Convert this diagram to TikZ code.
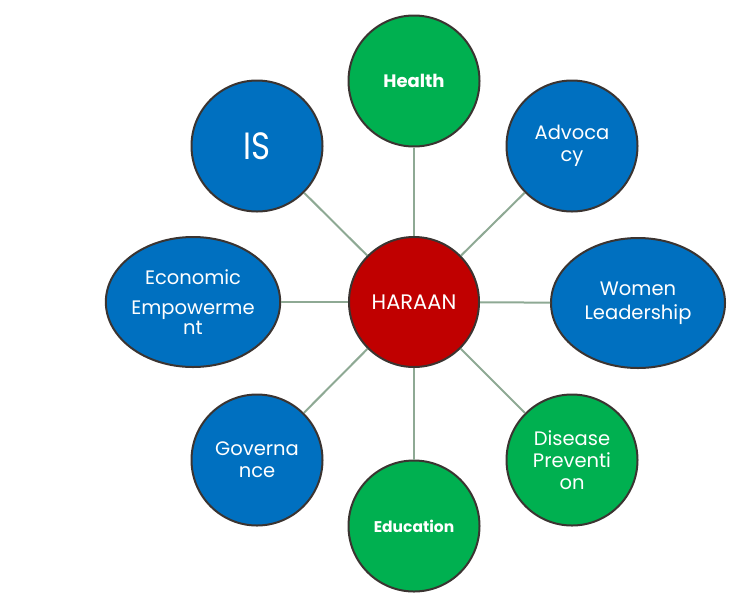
\documentclass[tikz,border=0pt]{standalone}
\usepackage{fontspec}
\setmainfont{Poppins}
\usepackage{tikz}
\usetikzlibrary{shapes.geometric}

\definecolor{hubred}{HTML}{C00000}
\definecolor{topicblue}{HTML}{0070C0}
\definecolor{topicgreen}{HTML}{00B050}
\definecolor{rim}{HTML}{3B3431}
\definecolor{spoke}{HTML}{8EA994}

\begin{document}
\begin{tikzpicture}[
  x=1pt, y=-1pt,
  hub/.style={circle, draw=rim, line width=2pt, fill=hubred, text=white,
              minimum size=130pt, inner sep=0pt, align=center,
              font=\fontsize{21}{24}\selectfont},
  topic/.style={circle, draw=rim, line width=2pt, fill=topicblue, text=white,
                minimum size=131pt, inner sep=0pt, align=center,
                font=\fontsize{19.5}{22}\selectfont},
  oval/.style={topic, ellipse, minimum width=174pt, minimum height=130pt},
  greentopic/.style={topic, fill=topicgreen},
  spokeline/.style={draw=spoke, line width=2pt}
]
\useasboundingbox (0,0) rectangle (751,603);

\node[hub] (haraan) at (414,302) {HARAAN};

\node[greentopic, font=\fontsize{18}{22}\selectfont\bfseries] (health) at (414,81) {Health};
\node[topic] (advocacy) at (572,146) {Advoca\\cy};
\node[oval] (women) at (638,303) {Women\\[2pt]Leadership};
\node[greentopic] (disease) at (572,460) {Disease\\Preventi\\on};
\node[greentopic, font=\fontsize{15.5}{18}\selectfont\bfseries] (education) at (414,526) {Education};
\node[topic] (governance) at (257,460) {Governa\\nce};
\node[oval] (economic) at (193,302) {Economic\\[8pt]Empowerme\\[-2pt]nt};
\node[topic, font=\fontsize{38}{44}\selectfont\addfontfeatures{FakeStretch=0.85}] (is) at (257,146) {IS};

\draw[spokeline] (haraan) -- (health);
\draw[spokeline] (haraan) -- (advocacy);
\draw[spokeline] (haraan) -- (women);
\draw[spokeline] (haraan) -- (disease);
\draw[spokeline] (haraan) -- (education);
\draw[spokeline] (haraan) -- (governance);
\draw[spokeline] (haraan) -- (economic);
\draw[spokeline] (haraan) -- (is);
\end{tikzpicture}
\end{document}
